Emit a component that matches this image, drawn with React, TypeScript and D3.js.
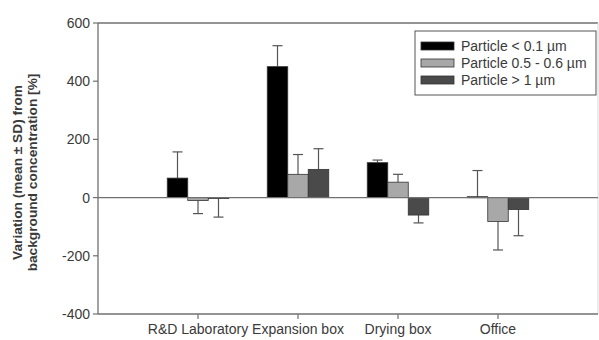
import { scaleLinear } from "d3";

const categories = ["R&D Laboratory", "Expansion box", "Drying box", "Office"];
const seriesLabels = ["Particle < 0.1 µm", "Particle 0.5 - 0.6 µm", "Particle > 1 µm"];
const seriesColors = ["#000000", "#a8a8a8", "#4a4a4a"];
const fine = [67, 450, 120, 3];
const fineSd = [90, 72, 9, 90];
const medium = [-10, 80, 53, -82];
const mediumSd = [45, 68, 27, 98];
const coarse = [-3, 97, -60, -41];
const coarseSd = [64, 71, 27, 90];
const yTicks = [600, 400, 200, 0, -200, -400];

const W = 599;
const H = 340;
const LEFT = 98;
const RIGHT = 598;
const TOP = 23;
const BOTTOM = 314;
const BAR_W = 20.5;
const CAP = 5;
const FONT = "'Liberation Sans', Arial, sans-serif";

export default function App() {
  const x = scaleLinear().domain([0, 5]).range([LEFT, RIGHT]);
  const y = scaleLinear().domain([-400, 600]).range([BOTTOM, TOP]);
  const values = [fine, medium, coarse];
  const sds = [fineSd, mediumSd, coarseSd];

  return (
    <svg width={W} height={H} style={{ position: "absolute", left: 0, top: 0, background: "#fff" }} fontFamily={FONT}>
      {/* frame */}
      <line x1={LEFT} x2={RIGHT} y1={TOP} y2={TOP} stroke="#707070" strokeWidth={1.5} />
      <line x1={RIGHT} x2={RIGHT} y1={TOP} y2={BOTTOM} stroke="#d8d8d8" strokeWidth={1} />
      <line x1={LEFT} x2={LEFT} y1={TOP} y2={BOTTOM} stroke="#707070" strokeWidth={1.3} />
      <line x1={LEFT} x2={RIGHT} y1={BOTTOM} y2={BOTTOM} stroke="#707070" strokeWidth={1.3} />

      {/* y ticks */}
      {yTicks.map((t) => (
        <g key={t}>
          <line x1={LEFT - 5} x2={LEFT} y1={y(t)} y2={y(t)} stroke="#707070" strokeWidth={1.2} />
          <text x={LEFT - 8} y={y(t)} dy="0.35em" textAnchor="end" fontSize={14} fill="#3a3a3a">
            {t}
          </text>
        </g>
      ))}

      {/* bars */}
      {categories.map((c, i) => {
        const cx = x(i + 1);
        return (
          <g key={c}>
            {values.map((vals, s) => {
              const v = vals[i];
              const bx = cx - 1.5 * BAR_W + s * BAR_W;
              const y0 = y(0);
              const yv = y(v);
              const end = v >= 0 ? y(v + sds[s][i]) : y(v - sds[s][i]);
              const mid = bx + BAR_W / 2;
              return (
                <g key={s}>
                  <line x1={mid} x2={mid} y1={yv} y2={end} stroke="#555" strokeWidth={1.2} />
                  <line x1={mid - CAP} x2={mid + CAP} y1={end} y2={end} stroke="#555" strokeWidth={1.2} />
                  <rect
                    x={bx}
                    y={Math.min(y0, yv)}
                    width={BAR_W}
                    height={Math.max(Math.abs(yv - y0), 1)}
                    fill={seriesColors[s]}
                    stroke="#333"
                    strokeWidth={0.8}
                  />
                </g>
              );
            })}
            <line x1={cx} x2={cx} y1={BOTTOM} y2={BOTTOM + 5} stroke="#707070" strokeWidth={1.2} />
            <text x={cx} y={BOTTOM + 20} textAnchor="middle" fontSize={14} fill="#3a3a3a">
              {c}
            </text>
          </g>
        );
      })}

      {/* zero line */}
      <line x1={LEFT} x2={RIGHT} y1={y(0)} y2={y(0)} stroke="#707070" strokeWidth={1.2} />

      {/* y title */}
      <g transform={`translate(22,${(TOP + BOTTOM) / 2 + 4}) rotate(-90)`}>
        <text textAnchor="middle" fontSize={13.7} fontWeight="bold" fill="#3a3a3a">
          <tspan x={0} y={0}>Variation (mean ± SD) from</tspan>
          <tspan x={0} y={15}>background concentration [%]</tspan>
        </text>
      </g>

      {/* legend */}
      <g>
        <rect x={415} y={31} width={181} height={64} fill="#fff" stroke="#555" strokeWidth={1} />
        {seriesLabels.map((l, s) => (
          <g key={l}>
            <rect x={421} y={42 + s * 17} width={33} height={8} fill={seriesColors[s]} stroke="#333" strokeWidth={0.8} />
            <text x={461} y={46 + s * 17} dy="0.35em" fontSize={14} fill="#3a3a3a">
              {l}
            </text>
          </g>
        ))}
      </g>
    </svg>
  );
}
